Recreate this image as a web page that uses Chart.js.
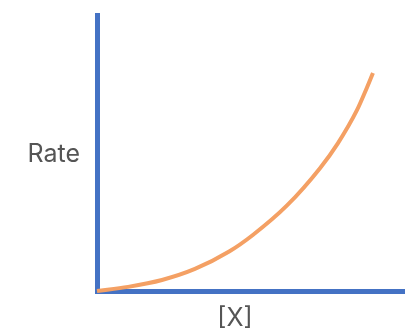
<!DOCTYPE html>
<html>
<head>
<meta charset="utf-8">
<script src="https://cdn.jsdelivr.net/npm/chart.js@4"></script>
<style>
  html, body { margin: 0; padding: 0; background: #ffffff; }
  #wrap { width: 405px; height: 336px; position: relative; }
</style>
</head>
<body>
<div id="wrap"><canvas id="c"></canvas></div>
<script>
// Data (arbitrary units, 0–10 on both axes)
const concentration = [0, 1.01, 2.11, 3.18, 4.29, 5.06, 6.17, 7.24, 7.82, 8.44, 8.70, 8.96];
const rate          = [0, 0.15, 0.40, 0.80, 1.43, 2.03, 3.10, 4.45, 5.35, 6.55, 7.20, 7.90];
const xTickValues = [4.48];
const xTickLabels = ['[X]'];
const yTickValues = [4.93];
const yTickLabels = ['Rate'];

const points = concentration.map((x, i) => ({ x: x, y: rate[i] }));
const axisBlue = '#4472C4';
const curveOrange = '#F4A064';
const textGray = '#555555';
const fontFamily = 'Inter, Roboto, "Liberation Sans", sans-serif';

new Chart(document.getElementById('c'), {
  type: 'line',
  data: {
    datasets: [{
      data: points,
      borderColor: curveOrange,
      borderWidth: 4,
      pointRadius: 0,
      fill: false,
      cubicInterpolationMode: 'monotone',
      clip: false
    }]
  },
  options: {
    responsive: true,
    maintainAspectRatio: false,
    animation: false,
    layout: { padding: { top: 15, right: 0, left: 0, bottom: 0 } },
    plugins: { legend: { display: false }, tooltip: { enabled: false } },
    scales: {
      x: {
        type: 'linear',
        min: 0, max: 10,
        grid: { display: false, drawTicks: false },
        border: { display: true, color: axisBlue, width: 5 },
        afterBuildTicks: s => { s.ticks = xTickValues.map(v => ({ value: v })); },
        afterFit: s => { s.height = 45; s.paddingLeft = 0; s.paddingRight = 0; },
        ticks: {
          padding: 12,
          color: textGray,
          font: { size: 25, family: fontFamily },
          callback: (v, i) => xTickLabels[i]
        }
      },
      y: {
        type: 'linear',
        min: 0, max: 10,
        grid: { display: false, drawTicks: false },
        border: { display: true, color: axisBlue, width: 5 },
        afterBuildTicks: s => { s.ticks = yTickValues.map(v => ({ value: v })); },
        afterFit: s => { s.width = 97; s.paddingTop = 0; s.paddingBottom = 0; },
        ticks: {
          padding: 17,
          color: textGray,
          font: { size: 25, family: fontFamily },
          callback: (v, i) => yTickLabels[i]
        }
      }
    }
  }
});
</script>
</body>
</html>
